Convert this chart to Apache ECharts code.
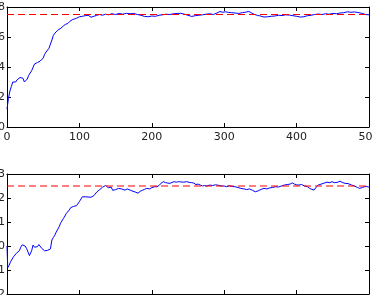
<!DOCTYPE html>
<html><head><meta charset="utf-8">
<script src="https://cdn.jsdelivr.net/npm/echarts@6/dist/echarts.min.js"></script>
<style>html,body{margin:0;padding:0;background:#fff}#c{width:372px;height:295px}</style>
</head><body><div id="c"></div>
<script>
const xTicks = [0, 100, 200, 300, 400, 500];
const topYTicks = ['0.0', '0.2', '0.4', '0.6', '0.8'];
const botYTicks = ['\u22120.2', '\u22120.1', '0.0', '0.1', '0.2', '0.3'];
const topRef = 0.75;
const botRef = 0.25;
const topX = [0,2,4,6,8,10,12,14,16,18,20,22,24,26,28,30,32,34,36,38,40,42,44,46,48,50,52,54,56,58,60,62,64,66,68,70,72,75,78,81,84,87,90,93,96,100,104,108,112,116,120,124,128,132,136,140,145,150,155,160,165,170,175,180,185,190,195,200,205,210,215,220,225,230,235,240,245,250,255,260,265,270,275,280,285,290,294,298,302,306,310,315,320,325,330,334,338,342,346,350,355,360,365,370,375,380,385,390,395,400,405,410,415,420,425,430,435,440,445,450,455,460,465,470,475,480,485,490,495,500];
const topY = [0.12,0.19,0.24,0.27,0.30,0.305,0.30,0.315,0.325,0.33,0.335,0.325,0.30,0.295,0.32,0.345,0.36,0.375,0.38,0.42,0.415,0.43,0.425,0.44,0.445,0.46,0.485,0.50,0.51,0.525,0.535,0.58,0.61,0.625,0.635,0.645,0.65,0.66,0.675,0.685,0.69,0.705,0.715,0.72,0.725,0.735,0.738,0.742,0.745,0.732,0.738,0.745,0.75,0.745,0.752,0.748,0.755,0.75,0.757,0.752,0.758,0.755,0.757,0.75,0.745,0.737,0.735,0.74,0.738,0.745,0.748,0.752,0.75,0.755,0.757,0.758,0.752,0.745,0.737,0.742,0.745,0.748,0.752,0.755,0.75,0.76,0.77,0.765,0.768,0.764,0.762,0.76,0.757,0.762,0.766,0.77,0.76,0.75,0.744,0.74,0.733,0.735,0.738,0.74,0.745,0.743,0.748,0.746,0.742,0.738,0.733,0.735,0.742,0.745,0.75,0.753,0.75,0.755,0.752,0.757,0.755,0.76,0.762,0.768,0.765,0.767,0.763,0.758,0.75,0.748];
const botX = [0,1,3,5,7,9,11,13,15,17,19,21,23,25,27,29,31,32,34,36,38,40,42,44,46,48,50,52,54,56,58,60,62,64,66,68,70,72,74,76,78,80,82,84,86,88,90,92,94,96,98,100,102,104,106,108,110,112,114,116,118,120,122,124,126,128,130,132,134,136,138,140,142,144,146,148,150,152,154,156,158,160,163,166,170,174,178,181,184,187,190,193,197,200,204,207,210,213,216,219,222,225,228,231,234,237,240,244,248,252,255,258,261,264,267,270,273,276,280,284,288,292,296,300,303,307,311,315,319,323,327,331,335,339,343,347,351,355,359,363,367,371,375,379,383,387,391,394,397,400,403,407,411,415,418,421,424,427,430,434,438,442,446,449,452,456,460,463,467,471,476,480,484,487,491,494,497,500];
const botY = [0.0,-0.09,-0.08,-0.065,-0.06,-0.045,-0.04,-0.03,-0.037,-0.02,-0.005,0.005,0.01,0.0,-0.01,-0.017,-0.04,-0.045,-0.02,0.004,-0.005,0.0,-0.003,0.006,0.0,-0.01,-0.017,-0.02,-0.025,-0.018,-0.022,-0.012,0.025,0.035,0.045,0.058,0.065,0.08,0.095,0.10,0.115,0.125,0.136,0.14,0.15,0.16,0.163,0.165,0.17,0.168,0.175,0.185,0.19,0.205,0.207,0.205,0.208,0.204,0.207,0.203,0.205,0.21,0.218,0.225,0.23,0.235,0.24,0.245,0.25,0.252,0.25,0.243,0.24,0.245,0.232,0.226,0.235,0.24,0.24,0.236,0.238,0.232,0.233,0.238,0.233,0.228,0.224,0.22,0.228,0.232,0.236,0.24,0.238,0.243,0.247,0.247,0.252,0.262,0.268,0.264,0.262,0.261,0.265,0.268,0.266,0.268,0.267,0.266,0.268,0.265,0.264,0.262,0.256,0.258,0.254,0.25,0.252,0.25,0.254,0.252,0.255,0.253,0.25,0.25,0.247,0.251,0.248,0.247,0.244,0.24,0.238,0.235,0.238,0.232,0.226,0.23,0.236,0.24,0.238,0.242,0.244,0.247,0.246,0.25,0.254,0.256,0.258,0.263,0.258,0.255,0.254,0.256,0.25,0.247,0.24,0.236,0.233,0.245,0.254,0.258,0.262,0.266,0.264,0.268,0.264,0.265,0.27,0.265,0.261,0.26,0.254,0.25,0.244,0.24,0.244,0.247,0.248,0.245];

const font = 'DejaVu Sans';
const frameLine = {show: true, onZero: false, lineStyle: {color: '#000', width: 1}};
const tickIn = {show: true, inside: true, length: 4, lineStyle: {color: '#000', width: 1}};
function xAx(grid, labels) {
  return [
    {type: 'value', gridIndex: grid, position: 'bottom', min: xTicks[0], max: xTicks[xTicks.length-1], interval: 100,
     axisLine: frameLine, axisTick: tickIn, splitLine: {show: false},
     axisLabel: {show: labels, color: '#222', fontFamily: font, fontSize: 11, margin: 5}},
    {type: 'value', gridIndex: grid, position: 'top', min: xTicks[0], max: xTicks[xTicks.length-1], interval: 100,
     axisLine: frameLine, axisTick: tickIn, splitLine: {show: false}, axisLabel: {show: false}}
  ];
}
function yAx(grid, mn, mx, iv, labels) {
  return [
    {type: 'value', gridIndex: grid, position: 'left', min: mn, max: mx, interval: iv,
     axisLine: frameLine, axisTick: tickIn, splitLine: {show: false},
     axisLabel: {color: '#222', fontFamily: font, fontSize: 11, margin: 2,
       formatter: (v) => labels[Math.round((v - mn) / iv)]}},
    {type: 'value', gridIndex: grid, position: 'right', min: mn, max: mx, interval: iv,
     axisLine: frameLine, axisTick: tickIn, splitLine: {show: false}, axisLabel: {show: false}}
  ];
}
const pairs = (xs, ys) => xs.map((x, i) => [x, ys[i]]);
const chart = echarts.init(document.getElementById('c'), null, {renderer: 'canvas'});
chart.setOption({
  animation: false,
  backgroundColor: '#fff',
  grid: [
    {left: 7, top: 7, width: 362, height: 120, containLabel: false, outerBoundsMode: 'none'},
    {left: 7, top: 174, width: 362, height: 120, containLabel: false, outerBoundsMode: 'none'}
  ],
  xAxis: [...xAx(0, true), ...xAx(1, false)],
  yAxis: [...yAx(0, 0, 0.8, 0.2, topYTicks), ...yAx(1, -0.2, 0.3, 0.1, botYTicks)],
  series: [
    {type: 'line', xAxisIndex: 0, yAxisIndex: 0, data: pairs([xTicks[0], xTicks[5]], [topRef, topRef]),
     showSymbol: false, lineStyle: {color: '#ff0000', width: 1, type: [7, 4]}, itemStyle: {color: '#ff0000'}, silent: true, z: 3},
    {type: 'line', xAxisIndex: 0, yAxisIndex: 0, data: pairs(topX, topY),
     showSymbol: false, lineStyle: {color: '#0000ff', width: 1}, itemStyle: {color: '#0000ff'}, z: 2},
    {type: 'line', xAxisIndex: 2, yAxisIndex: 2, data: pairs([xTicks[0], xTicks[5]], [botRef, botRef]),
     showSymbol: false, lineStyle: {color: '#ff0000', width: 1, type: [7, 4]}, itemStyle: {color: '#ff0000'}, silent: true, z: 3},
    {type: 'line', xAxisIndex: 2, yAxisIndex: 2, data: pairs(botX, botY),
     showSymbol: false, lineStyle: {color: '#0000ff', width: 1}, itemStyle: {color: '#0000ff'}, z: 2}
  ]
});
</script></body></html>
